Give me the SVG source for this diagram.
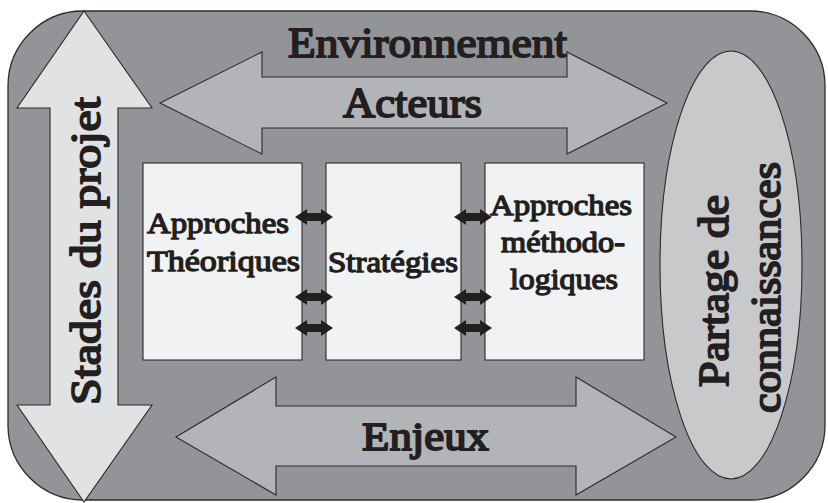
<svg xmlns="http://www.w3.org/2000/svg" width="828" height="503" viewBox="0 0 828 503">
  <defs>
    <style>
      .bg { fill: #ffffff; }
      .frame { fill: #929497; stroke: #2b2b2b; stroke-width: 1.3; }
      .vstage { fill: #e1e2e4; stroke: #2b2b2b; stroke-width: 1.1; }
      .harrow { fill: #b2b4b7; stroke: #2b2b2b; stroke-width: 1.1; }
      .oval { fill: #c8c9cb; stroke: #2b2b2b; stroke-width: 1.1; }
      .box { fill: #f1f2f4; stroke: #2b2b2b; stroke-width: 1.1; }
      .link { fill: #231f20; }
      /* heavy serif lettering: regular face thickened with a matching outline */
      text { fill: #231f20; stroke: #231f20; stroke-linejoin: round; }
      .big { font-size: 43px; stroke-width: 1.9px; }
      .lbl { font-size: 30px; stroke-width: 1.35px; }
    </style>
    <!-- small two-way exchange arrow between neighbouring boxes -->
    <path id="dbl" d="M-19,0 L-7,-8 L-7,-4 L7,-4 L7,-8 L19,0 L7,8 L7,4 L-7,4 L-7,8 Z"/>
  </defs>

  <rect class="bg" x="0" y="0" width="828" height="503"/>

  <!-- surrounding environment -->
  <g id="environnement">
    <rect class="frame" x="8" y="11" width="817" height="489" rx="75" ry="75"/>
    <text class="big" font-family="Liberation Serif" font-weight="normal" x="288" y="57" textLength="279" lengthAdjust="spacingAndGlyphs">Environnement</text>
  </g>

  <!-- project stages: vertical two-way arrow -->
  <g id="stades">
    <path class="vstage" d="M84,11 L152,108 L118,108 L118,405 L152,405 L84,502 L17,405 L50,405 L50,108 L17,108 Z"/>
    <text class="big" font-family="Liberation Serif" font-weight="normal" transform="translate(100,405) rotate(-90)" textLength="308" lengthAdjust="spacingAndGlyphs">Stades du projet</text>
  </g>

  <!-- actors: upper horizontal two-way arrow -->
  <g id="acteurs">
    <path class="harrow" d="M160,103 L262,52 L262,77 L567,77 L567,52 L667,103 L567,154 L567,128 L262,128 L262,154 Z"/>
    <text class="big" font-family="Liberation Serif" font-weight="normal" x="343" y="117" textLength="139" lengthAdjust="spacingAndGlyphs">Acteurs</text>
  </g>

  <!-- stakes: lower horizontal two-way arrow -->
  <g id="enjeux">
    <path class="harrow" d="M176,437 L276,377 L276,406 L576,406 L576,377 L676,437 L576,495 L576,466 L276,466 L276,495 Z"/>
    <text class="big" font-family="Liberation Serif" font-weight="normal" style="font-size:41px" x="362" y="450" textLength="127" lengthAdjust="spacingAndGlyphs">Enjeux</text>
  </g>

  <!-- knowledge sharing -->
  <g id="partage">
    <ellipse class="oval" cx="731" cy="265" rx="71" ry="214"/>
    <text class="big" font-family="Liberation Serif" font-weight="normal" transform="translate(728,387) rotate(-90)" textLength="192" lengthAdjust="spacingAndGlyphs">Partage de</text>
    <text class="big" font-family="Liberation Serif" font-weight="normal" transform="translate(780,413) rotate(-90)" textLength="251" lengthAdjust="spacingAndGlyphs">connaissances</text>
  </g>

  <!-- three central boxes -->
  <g id="approches-theoriques">
    <rect class="box" x="143" y="163" width="159" height="197"/>
    <text class="lbl" font-family="Liberation Serif" font-weight="normal" x="147" y="233" textLength="142" lengthAdjust="spacingAndGlyphs">Approches</text>
    <text class="lbl" font-family="Liberation Serif" font-weight="normal" x="147" y="271" textLength="153" lengthAdjust="spacingAndGlyphs">Théoriques</text>
  </g>

  <g id="strategies">
    <rect class="box" x="326" y="163" width="135" height="197"/>
    <text class="lbl" font-family="Liberation Serif" font-weight="normal" x="328" y="272" textLength="130" lengthAdjust="spacingAndGlyphs">Stratégies</text>
  </g>

  <g id="approches-methodologiques">
    <rect class="box" x="485" y="163" width="159" height="197"/>
    <text class="lbl" font-family="Liberation Serif" font-weight="normal" x="490" y="215" textLength="142" lengthAdjust="spacingAndGlyphs">Approches</text>
    <text class="lbl" font-family="Liberation Serif" font-weight="normal" x="501" y="252" textLength="124" lengthAdjust="spacingAndGlyphs">méthodo-</text>
    <text class="lbl" font-family="Liberation Serif" font-weight="normal" x="510" y="289" textLength="108" lengthAdjust="spacingAndGlyphs">logiques</text>
  </g>

  <!-- exchanges between the boxes -->
  <g id="connecteurs" class="link">
    <use href="#dbl" x="314" y="217"/>
    <use href="#dbl" x="314" y="297"/>
    <use href="#dbl" x="314" y="328"/>
    <use href="#dbl" x="473" y="217"/>
    <use href="#dbl" x="473" y="297"/>
    <use href="#dbl" x="473" y="328"/>
  </g>
</svg>
